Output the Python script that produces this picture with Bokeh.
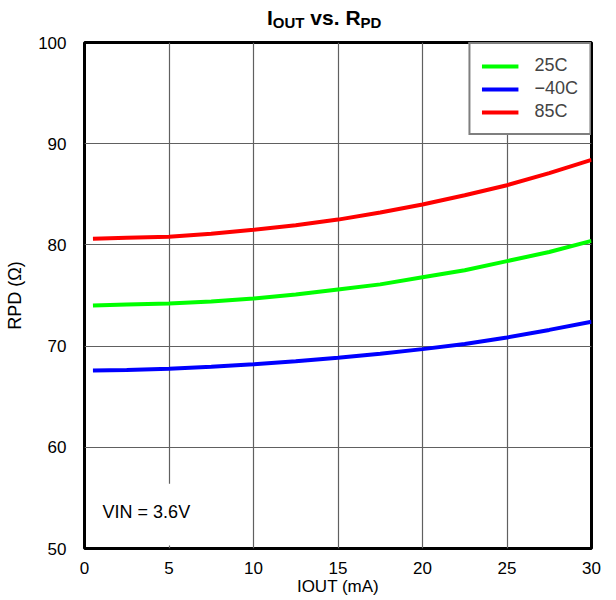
from bokeh.plotting import figure
from bokeh.models import Label, Legend, LegendItem, BoxAnnotation, FixedTicker, Div
from bokeh.layouts import column
from bokeh.embed import file_html
from bokeh.resources import INLINE

# ---- data ----
iout = [0.5, 2.5, 5, 7.5, 10, 12.5, 15, 17.5, 20, 22.5, 25, 27.5, 30]
rpd_25c = [74.0, 74.1, 74.2, 74.4, 74.7, 75.1, 75.6, 76.1, 76.8, 77.5, 78.4, 79.3, 80.4]
rpd_m40c = [67.6, 67.65, 67.75, 67.95, 68.2, 68.5, 68.85, 69.25, 69.7, 70.2, 70.85, 71.6, 72.4]
rpd_85c = [80.6, 80.7, 80.8, 81.1, 81.5, 81.95, 82.5, 83.2, 84.0, 84.9, 85.9, 87.1, 88.4]
x_ticks = [0, 5, 10, 15, 20, 25, 30]
y_ticks = [50, 60, 70, 80, 90, 100]
series_labels = ["25C", "\u221240C", "85C"]

FONT = "Liberation Sans"

title_html = (
    '<div style="position:relative;left:267px;top:6px;white-space:nowrap;'
    'font-family:\'Liberation Sans\';font-weight:bold;font-size:21px;line-height:24px;color:black">'
    'I<span style="font-size:15px;position:relative;top:3px">OUT</span> vs. '
    'R<span style="font-size:15px;position:relative;top:3px">PD</span></div>'
)
title_div = Div(text=title_html, width=606, height=32, margin=0)

p = figure(width=606, height=566, output_backend="svg", toolbar_location=None,
           x_range=(0, 30), y_range=(50, 100), margin=0,
           min_border_left=84, min_border_right=15, min_border_top=10, min_border_bottom=47)

p.outline_line_color = "black"
p.outline_line_width = 3
p.background_fill_color = "white"

for ax in (p.xaxis, p.yaxis):
    ax.axis_line_color = None
    ax.major_tick_line_color = None
    ax.minor_tick_line_color = None
    ax.major_label_text_font = FONT
    ax.major_label_text_font_size = "17px"
    ax.major_label_text_color = "black"
    ax.axis_label_text_font = FONT
    ax.axis_label_text_font_style = "normal"
    ax.axis_label_text_color = "black"

p.xaxis.ticker = FixedTicker(ticks=x_ticks)
p.yaxis.ticker = FixedTicker(ticks=y_ticks)
p.xaxis.axis_label = "IOUT (mA)"
p.yaxis.axis_label = "RPD (\u03a9)"
p.xaxis.axis_label_text_font_size = "17px"
p.yaxis.axis_label_text_font_size = "18px"
p.xaxis.major_label_standoff = 7
p.xaxis.axis_label_standoff = 0
p.yaxis.major_label_standoff = 12
p.yaxis.axis_label_standoff = 10

p.grid.grid_line_color = "#606060"
p.grid.grid_line_width = 1.2

r1 = p.line(iout, rpd_25c, line_color="#00ff00", line_width=4)
r2 = p.line(iout, rpd_m40c, line_color="#0000ff", line_width=4)
r3 = p.line(iout, rpd_85c, line_color="#ff0000", line_width=4)

legend = Legend(items=[LegendItem(label=series_labels[0], renderers=[r1]),
                       LegendItem(label=series_labels[1], renderers=[r2]),
                       LegendItem(label=series_labels[2], renderers=[r3])],
                location="top_right", margin=0, padding=11, spacing=2,
                glyph_width=37, glyph_height=18, label_height=18, label_standoff=16,
                label_text_font=FONT, label_text_font_size="18px",
                border_line_color="black", border_line_width=2,
                background_fill_color="white", background_fill_alpha=1)
p.add_layout(legend)

# white patch behind the annotation text (grid line hidden there)
p.add_layout(BoxAnnotation(left=0.6, right=6.4, bottom=50.3, top=56.4,
                           fill_color="white", fill_alpha=1, line_color=None))
p.add_layout(Label(x=1.07, y=53.56, text="VIN = 3.6V", text_font=FONT,
                   text_font_size="18px", text_color="black", text_baseline="alphabetic"))

layout = column(title_div, p, spacing=0, margin=0)
open("out.html", "w").write(file_html(layout, INLINE))
